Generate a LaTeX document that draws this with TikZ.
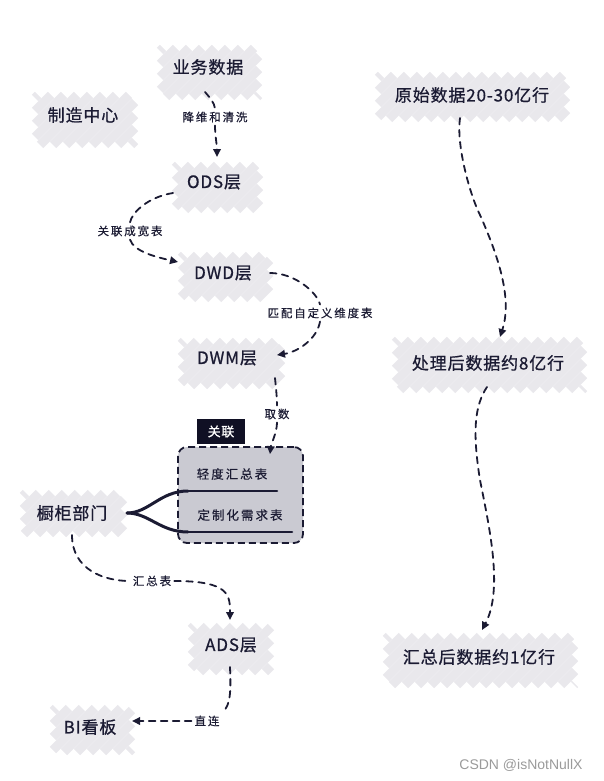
\documentclass[tikz,border=0pt]{standalone}
\usepackage{fontspec}
\newfontfamily\hand[LetterSpace=5,FakeBold=0.8]{Noto Sans CJK SC}
\newfontfamily\handl[LetterSpace=16,FakeBold=0.4]{Noto Sans CJK SC}
\newfontfamily\wmfont{Liberation Sans}
\usetikzlibrary{arrows.meta,calc}
\definecolor{ink}{HTML}{1B1B33}
\definecolor{hatchc}{HTML}{E9E8EC}
\definecolor{boxc}{HTML}{CACAD2}
\definecolor{tagc}{HTML}{101024}
\definecolor{wmc}{HTML}{9A9A9A}
\tikzset{
  hatchline/.style={draw=hatchc,line width=8.9pt,line cap=butt},
  main/.style={font=\hand\fontsize{17}{19}\selectfont, text=ink, inner sep=0pt},
  lbl/.style={font=\handl\fontsize{11.5}{13}\selectfont, text=ink, inner sep=3pt},
  boxtext/.style={font=\handl\fontsize{12.5}{14}\selectfont, text=ink, inner sep=0pt},
  conn/.style={draw=ink, line width=1.8pt, dash pattern=on 6.5pt off 5.5pt, line cap=round},
  arr/.style={conn, -{Triangle[length=8pt,width=7.5pt]}},
  bar/.style={draw=ink, line width=2.6pt, line cap=round},
  fork/.style={draw=ink, line width=3pt, line cap=round},
}
\newcommand\hatchbg[4]{%
  \pgfmathsetmacro\hbh{#4-#2}%
  \pgfmathsetmacro\hbs{#1-\hbh+3}%
  \pgfmathsetmacro\hbn{\hbs+13}%
  \foreach \hbc in {\hbs,\hbn,...,#3}{%
    \pgfmathsetmacro\hbta{max(0,#1-\hbc)}%
    \pgfmathsetmacro\hbtb{min(\hbh,#3-\hbc)}%
    \ifdim\hbtb pt>\hbta pt
      \draw[hatchline] (\hbc+\hbta,#4-\hbta) -- (\hbc+\hbtb,#4-\hbtb);
    \fi
  }%
}
\begin{document}
\begin{tikzpicture}[x=1pt,y=-1pt]
\useasboundingbox (0,0) rectangle (604,781);
% hatched backgrounds
\hatchbg{160}{48}{259}{97}
\hatchbg{35}{95}{135}{145}
\hatchbg{175}{165}{260}{210}
\hatchbg{181}{255}{270}{299}
\hatchbg{181}{341}{282}{386}
\hatchbg{23}{493}{124}{534}
\hatchbg{191}{626}{271}{672}
\hatchbg{53}{708}{132}{752}
\hatchbg{378}{75}{567}{119}
\hatchbg{395}{340}{584}{390}
\hatchbg{386}{636}{575}{685}

% main nodes
\node[main] (yw)  at (208,67)  {业务数据};
\node[main] (zz)  at (83,115)  {制造中心};
\node[main] (ods) at (214,182) {ODS层};
\node[main] (dwd) at (223,273) {DWD层};
\node[main] (dwm) at (227,358) {DWM层};
\node[main] (cb)  at (72,513)  {橱柜部门};
\node[main] (ads) at (231,645) {ADS层};
\node[main] (bi)  at (90,727)  {BI看板};
\node[main] (r1)  at (472,95)  {原始数据20-30亿行};
\node[main] (r2)  at (488,363) {处理后数据约8亿行};
\node[main] (r3)  at (479,657) {汇总后数据约1亿行};

% grouped box
\node[draw=ink, fill=boxc, rounded corners=9pt, line width=1.8pt,
      dash pattern=on 7pt off 4pt, minimum width=125pt, minimum height=96pt]
      (bx) at (240.5,495) {};
\node[fill=tagc, text=white, font=\hand\fontsize{13}{15}\selectfont,
      minimum width=48pt, minimum height=25pt, inner sep=0pt]
      (tg) at (221,431.5) {关联};
\node[boxtext] (t1) at (232,474) {轻度汇总表};
\node[boxtext] (t2) at (240,515) {定制化需求表};
\coordinate (b1l) at (188,491);
\coordinate (b1r) at (277,491);
\coordinate (b2l) at (188,532);
\coordinate (b2r) at (292,532);
\draw[bar] (b1l) -- (b1r);
\draw[bar] (b2l) -- (b2r);
\draw[fork] ($(cb)+(55,0)$) .. controls +(22,0) and +(-28,0) .. (b1l);
\draw[fork] ($(cb)+(55,0)$) .. controls +(22,0) and +(-28,0) .. (b2l);

% labels
\node[lbl] (l1) at (215,117) {降维和清洗};
\node[lbl] (l2) at (130,231) {关联成宽表};
\node[lbl] (l3) at (320,313) {匹配自定义维度表};
\node[lbl] (l4) at (277,414) {取数};
\node[lbl] (l5) at (152,581) {汇总表};
\node[lbl] (l6) at (207,721) {直连};

% connectors
\draw[conn] ($(yw)+(-3,25)$) .. controls +(6,7) and +(-1,-6) .. (l1.north);
\draw[arr] (l1.south) .. controls +(0,10) and +(0,-12) .. ($(ods)+(3,-25)$);

\draw[conn] ($(ods)+(-41,11)$) .. controls +(-25,4) and +(2,-10) .. (l2.north);
\draw[arr] (l2.south) .. controls +(4,12) and +(-22,-5) .. ($(dwd)+(-45,-11)$);

\draw[conn] ($(dwd)+(47,0)$) .. controls +(25,0) and +(-3,-12) .. (l3.north);
\draw[arr] (l3.south) .. controls +(-3,18) and +(20,-3) .. ($(dwm)+(50,-3)$);

\draw[conn] ($(dwm)+(48,20)$) .. controls +(1,10) and +(0,-8) .. (l4.north);
\draw[arr] (l4.south) .. controls +(0,10) and +(1,-10) .. ($(bx.north)+(29.5,8)$);

\draw[conn] ($(cb)+(0,22)$) .. controls +(0,35) and +(-25,0) .. (l5.west);
\draw[arr] (l5.east) .. controls +(55,0) and +(0,-25) .. ($(ads)+(-1,-25)$);

\draw[conn] ($(ads)+(-1,22)$) .. controls +(1,25) and +(8,-8) .. (l6.north east);
\draw[arr] (l6.west) -- ($(bi)+(42,-6)$);

\draw[arr] ($(r1)+(-12,23)$) .. controls +(-4,27) and +(-10,-20) .. (480,215)
           .. controls +(20,45) and +(12,-37) .. ($(r2)+(12,-26)$);
\draw[arr] ($(r2)+(-1,24)$) .. controls +(-12,18) and +(-8,-50) .. (480,480)
           .. controls +(10,50) and +(21,-40) .. ($(r3)+(3,-27)$);

% watermark
\node[font=\wmfont\fontsize{14}{16}\selectfont, text=wmc, inner sep=0pt] (wm) at (521,765) {CSDN @isNotNullX};
\end{tikzpicture}
\end{document}
